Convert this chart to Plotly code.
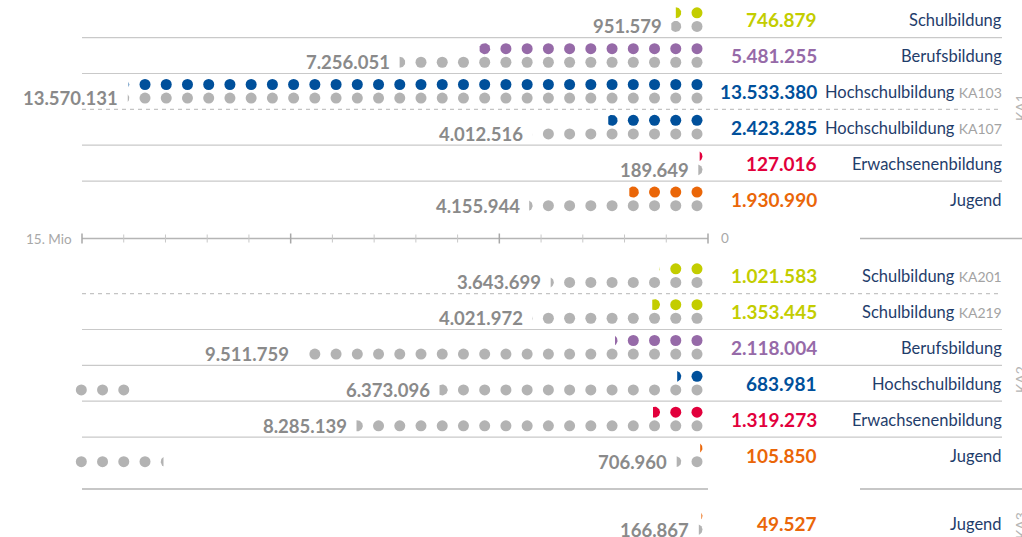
import math
import numpy as np
import plotly.graph_objects as go

# ---------------- data ----------------
sections = ["KA1", "KA1", "KA1", "KA1", "KA1", "KA1",
            "KA2", "KA2", "KA2", "KA2", "KA2", "KA2",
            "KA3"]
categories = ["Schulbildung", "Berufsbildung", "Hochschulbildung", "Hochschulbildung",
              "Erwachsenenbildung", "Jugend",
              "Schulbildung", "Schulbildung", "Berufsbildung", "Hochschulbildung",
              "Erwachsenenbildung", "Jugend",
              "Jugend"]
codes = ["", "", "KA103", "KA107", "", "",
         "KA201", "KA219", "", "", "", "",
         ""]
applied = [951579, 7256051, 13570131, 4012516, 189649, 4155944,
           3643699, 4021972, 9511759, 6373096, 8285139, 706960,
           166867]
funded = [746879, 5481255, 13533380, 2423285, 127016, 1930990,
          1021583, 1353445, 2118004, 683981, 1319273, 105850,
          49527]
# stray grey dots visible at the far left of some rows (in dots)
stray_dots = [0, 0, 0, 0, 0, 0,
              0, 0, 0, 3, 0, 4.25,
              0]
axis_ticks = list(range(0, 16))
axis_major = [0, 5, 10, 15]
section_labels = ["KA1", "KA2", "KA3"]

DOT_VALUE = 500000
colors = {
    "Schulbildung": "#c3cd00",
    "Berufsbildung": "#966aa8",
    "Hochschulbildung": "#00509b",
    "Erwachsenenbildung": "#e2003c",
    "Jugend": "#ea6608",
}
GREY_DOT = "#b3b3b3"
GREY_TXT = "#8a8a8a"
NAVY = "#1f3d6b"
LINE = "#c9c9c9"
FONT = "Lato"

# ---------------- layout geometry ----------------
W, H = 1022, 537
PX_PER_MIO = 42.46          # dot scale
ZERO_PX = 707.6
AX_PX_PER_MIO = 626 / 15    # axis scale
AX_ZERO_PX = 708
R = 5.5
section_base = {"KA1": 12.8, "KA2": 268.8, "KA3": 516.0}
PITCH = 35.85
GREY_OFF = 13.6
AXIS_Y = 238.5
DIV_Y = 489
SLOTS = 30

x_left = ZERO_PX / PX_PER_MIO
x_right = -(W - ZERO_PX) / PX_PER_MIO
x2_left = AX_ZERO_PX / AX_PX_PER_MIO
x2_right = -(W - AX_ZERO_PX) / AX_PX_PER_MIO


def fmt(v):
    return f"{v:,}".replace(",", ".")


def seg_poly(cx, cy, f, side="right"):
    f = min(max(f, 0.0), 1.0)
    a = math.acos(1 - 2 * f)
    t = np.linspace(-a, a, 30)
    dx = R * np.cos(t)
    dy = R * np.sin(t)
    if side == "right":
        xs = cx - dx / PX_PER_MIO
    else:
        xs = cx + dx / PX_PER_MIO
    ys = cy + dy
    return list(xs) + [xs[0]], list(ys) + [ys[0]]


fig = go.Figure()
annotations = []
shapes = []

# row positions
row_y = []
idx_in_sec = {}
for s in sections:
    k = idx_in_sec.get(s, 0)
    row_y.append(section_base[s] + k * PITCH)
    idx_in_sec[s] = k + 1


def add_dots(value, y, color):
    units = value / DOT_VALUE
    n = int(math.floor(units))
    f = units - n
    xs = [(i + 0.5) * 0.5 for i in range(n)]
    if xs:
        fig.add_trace(go.Scatter(x=xs, y=[y] * len(xs), mode="markers",
                                 marker=dict(size=2 * R, color=color, line=dict(width=0)),
                                 hoverinfo="skip", showlegend=False))
    cx = (n + 0.5) * 0.5
    if f > 0.005:
        px, py = seg_poly(cx, y, f, "right")
        fig.add_trace(go.Scatter(x=px, y=py, mode="lines", fill="toself",
                                 fillcolor=color, line=dict(width=0, color=color),
                                 hoverinfo="skip", showlegend=False))
    return cx, f


def ann(**kw):
    kw.setdefault("showarrow", False)
    kw.setdefault("borderpad", 0)
    kw.setdefault("borderwidth", 0)
    annotations.append(kw)


for i in range(len(categories)):
    cat = categories[i]
    col = colors[cat]
    yc = row_y[i]
    yg = yc + GREY_OFF
    add_dots(funded[i], yc, col)
    cx, f = add_dots(applied[i], yg, GREY_DOT)

    # stray dots at far left
    if stray_dots[i] > 0:
        k = int(math.floor(stray_dots[i]))
        fr = stray_dots[i] - k
        xs = [(SLOTS - 1 - j + 0.5) * 0.5 for j in range(k)]
        fig.add_trace(go.Scatter(x=xs, y=[yg] * k, mode="markers",
                                 marker=dict(size=2 * R, color=GREY_DOT, line=dict(width=0)),
                                 hoverinfo="skip", showlegend=False))
        if fr > 0:
            pcx = (SLOTS - 1 - k + 0.5) * 0.5
            px, py = seg_poly(pcx, yg, fr, "left")
            fig.add_trace(go.Scatter(x=px, y=py, mode="lines", fill="toself",
                                     fillcolor=GREY_DOT, line=dict(width=0, color=GREY_DOT),
                                     hoverinfo="skip", showlegend=False))

    # applied value label (just left of the partial dot)
    ann(x=cx + (4 + 11 * f) / PX_PER_MIO, y=yg, xref="x", yref="y",
        text=f"<b>{fmt(applied[i])}</b>", xanchor="right", yanchor="middle",
        font=dict(family=FONT, size=18.5, color=GREY_TXT))
    # funded value label
    ann(x=817 / W, y=yc + 7, xref="paper", yref="y",
        text=f"<b>{fmt(funded[i])}</b>", xanchor="right", yanchor="middle",
        font=dict(family=FONT, size=19, color=col))
    # category label
    label = cat
    if codes[i]:
        label += f" <span style='font-size:14px;color:#a3a3a3'>{codes[i]}</span>"
    ann(x=1002 / W, y=yc + 7.5, xref="paper", yref="y",
        text=label, xanchor="right", yanchor="middle",
        font=dict(family=FONT, size=16.5, color=NAVY))

    # separator above (within section)
    if i > 0 and sections[i] == sections[i - 1]:
        dashed = categories[i] == categories[i - 1]
        shapes.append(dict(type="line", xref="paper", yref="y",
                           x0=82 / W, x1=1002 / W, y0=yc - 11, y1=yc - 11,
                           line=dict(color="#c4c4c4" if dashed else LINE, width=1.2,
                                     dash="4px,4px" if dashed else "solid")))

# axis (Mio scale, on overlaid x2)
fig.add_trace(go.Scatter(x=[15, 0], y=[AXIS_Y, AXIS_Y], xaxis="x2", yaxis="y",
                         mode="lines", line=dict(color="#b5b5b5", width=1.5),
                         hoverinfo="skip", showlegend=False))
tx, ty = [], []
mx, my = [], []
for t in axis_ticks:
    if t in axis_major:
        mx += [t, t, None]
        my += [AXIS_Y - 5, AXIS_Y + 5, None]
    else:
        tx += [t, t, None]
        ty += [AXIS_Y - 4, AXIS_Y + 4, None]
fig.add_trace(go.Scatter(x=tx, y=ty, xaxis="x2", yaxis="y", mode="lines",
                         line=dict(color="#c8c8c8", width=1), hoverinfo="skip", showlegend=False))
fig.add_trace(go.Scatter(x=mx, y=my, xaxis="x2", yaxis="y", mode="lines",
                         line=dict(color="#a8a8a8", width=1.5), hoverinfo="skip", showlegend=False))
ann(x=15, y=AXIS_Y, xref="x2", yref="y", text="15. Mio",
    xanchor="right", yanchor="middle", xshift=-10,
    font=dict(family=FONT, size=13.5, color="#a8a8a8"))
ann(x=0, y=AXIS_Y - 1, xref="x2", yref="y", text="0",
    xanchor="left", yanchor="middle", xshift=13,
    font=dict(family=FONT, size=13.5, color="#a8a8a8"))
shapes.append(dict(type="line", xref="paper", yref="y", x0=860 / W, x1=1,
                   y0=AXIS_Y, y1=AXIS_Y, line=dict(color="#b5b5b5", width=1.3)))

# KA2/KA3 divider
shapes.append(dict(type="line", xref="paper", yref="y", x0=82 / W, x1=708 / W,
                   y0=DIV_Y, y1=DIV_Y, line=dict(color="#b5b5b5", width=1.3)))
shapes.append(dict(type="line", xref="paper", yref="y", x0=860 / W, x1=1,
                   y0=DIV_Y, y1=DIV_Y, line=dict(color="#b5b5b5", width=1.3)))

# section labels
sec_y = {"KA1": 108, "KA2": 380, "KA3": 526}
for s in section_labels:
    ann(x=1020 / W, y=sec_y[s], xref="paper", yref="y", text=s,
        textangle=-90, xanchor="center", yanchor="middle",
        font=dict(family=FONT, size=14, color="#b5b5b5"))

fig.update_layout(
    width=W, height=H,
    margin=dict(l=0, r=0, t=0, b=0),
    paper_bgcolor="white", plot_bgcolor="white",
    showlegend=False,
    xaxis=dict(range=[x_left, x_right], visible=False, fixedrange=True),
    xaxis2=dict(range=[x2_left, x2_right], overlaying="x", anchor="y",
                visible=False, fixedrange=True),
    yaxis=dict(range=[H, 0], visible=False, fixedrange=True),
    annotations=annotations,
    shapes=shapes,
)

fig.write_html("out.html", config={"displayModeBar": False, "staticPlot": True},
               post_script="document.body.style.margin='0px';document.body.style.overflow='hidden';")
